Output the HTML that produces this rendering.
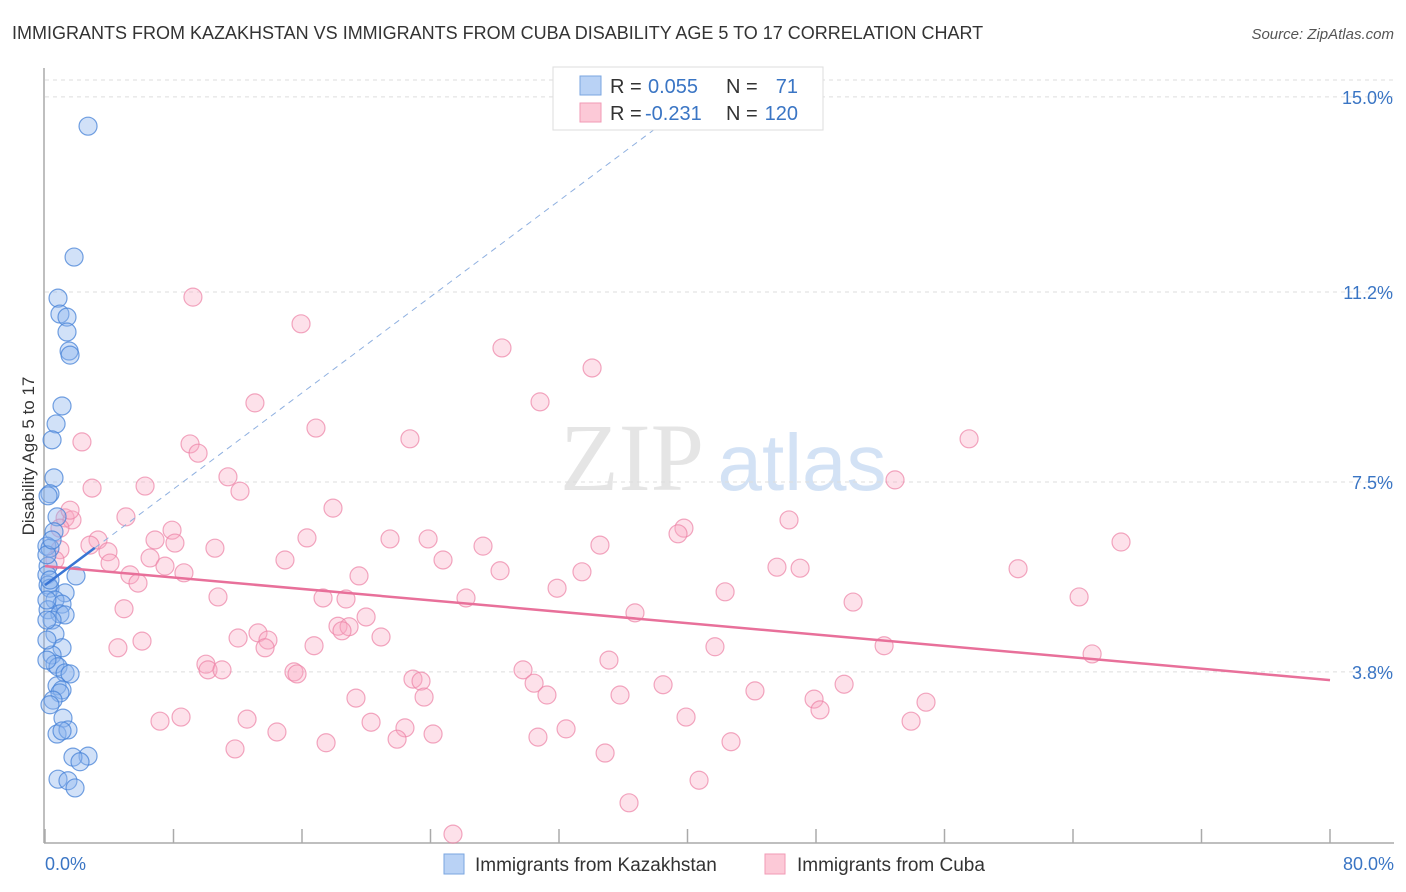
<!DOCTYPE html>
<html><head><meta charset="utf-8"><style>
body{margin:0;background:#fff;font-family:"Liberation Sans",sans-serif;}
svg{display:block}
</style></head><body>
<svg id="chart" width="1406" height="892" xmlns="http://www.w3.org/2000/svg">
<text x="12" y="39" font-size="18" fill="#333">IMMIGRANTS FROM KAZAKHSTAN VS IMMIGRANTS FROM CUBA DISABILITY AGE 5 TO 17 CORRELATION CHART</text>
<text x="1394" y="39" font-size="15" fill="#555" text-anchor="end" font-style="italic">Source: ZipAtlas.com</text>
<g opacity="0.5">
<text x="632" y="490" font-size="96" fill="#ccc" text-anchor="middle" font-family="Liberation Serif,serif">ZIP</text>
<text x="802" y="490" font-size="80" fill="#a9c6ec" text-anchor="middle">atlas</text>
</g>
<g id="grid"></g>
<g id="axes"></g>
<g id="pts"></g>
<g id="lines"></g>
<text transform="translate(34,456) rotate(-90)" font-size="17" fill="#333" text-anchor="middle">Disability Age 5 to 17</text>
<text x="45" y="870" font-size="18" fill="#3a75c4">0.0%</text>
<text x="1394" y="870" font-size="18" fill="#3a75c4" text-anchor="end">80.0%</text>
<g>
<rect x="553" y="67" width="270" height="63" fill="#fff" stroke="#ddd"/>
<rect x="580" y="76" width="21" height="19" fill="#b9d2f5" stroke="#7aa6e0"/>
<rect x="580" y="103" width="21" height="19" fill="#fcc9d7" stroke="#f29ab5"/>
<text x="610" y="93" font-size="20" fill="#333">R = </text><text x="648" y="93" font-size="20" fill="#3a75c4">0.055</text>
<text x="726" y="93" font-size="20" fill="#333">N = </text><text x="798" y="93" font-size="20" fill="#3a75c4" text-anchor="end">71</text>
<text x="610" y="120" font-size="20" fill="#333">R = </text><text x="645" y="120" font-size="20" fill="#3a75c4">-0.231</text>
<text x="726" y="120" font-size="20" fill="#333">N = </text><text x="798" y="120" font-size="20" fill="#3a75c4" text-anchor="end">120</text>
</g>
<g>
<rect x="444" y="854" width="20" height="20" fill="#b9d2f5" stroke="#7aa6e0"/>
<text x="475" y="871" font-size="19" fill="#333">Immigrants from Kazakhstan</text>
<rect x="765" y="854" width="20" height="20" fill="#fcc9d7" stroke="#f29ab5"/>
<text x="797" y="871" font-size="19" fill="#333">Immigrants from Cuba</text>
</g>
</svg>
<script>
const yTicks=[15.0,11.2,7.5,3.8];
const yTickLabels=["15.0%","11.2%","7.5%","3.8%"];
const xTicks=[0,8,16,24,32,40,48,56,64,72,80];
const blueX=[2.68,1.81,0.81,0.93,1.37,1.37,1.50,1.56,1.06,0.69,0.44,0.56,0.31,0.19,0.75,0.56,0.12,0.31,0.19,1.93,0.12,0.19,0.31,1.25,0.62,1.06,0.19,0.93,1.25,0.44,0.62,1.06,0.44,0.62,0.81,1.25,1.56,0.75,1.06,0.93,0.50,1.12,0.75,1.43,1.06,2.68,1.74,2.18,0.81,1.43,1.87,0.12,0.12,0.31,0.12,0.44,0.12,0.31,0.12];
const blueY=[14.43,11.88,11.08,10.77,10.71,10.42,10.05,9.97,8.98,8.63,8.32,7.58,7.27,7.23,6.82,6.53,6.25,6.21,5.86,5.67,5.69,5.49,5.43,5.34,5.20,5.12,5.01,4.93,4.91,4.81,4.54,4.27,4.13,3.95,3.90,3.78,3.76,3.53,3.45,3.39,3.25,2.90,2.59,2.67,2.65,2.16,2.14,2.05,1.71,1.68,1.54,4.81,5.20,5.59,6.08,6.37,4.03,3.16,4.42];
const pinkX=[9.21,15.94,28.45,34.06,13.07,30.82,16.87,22.72,2.30,9.03,9.53,57.53,11.39,6.23,2.93,12.14,52.92,17.93,5.04,1.25,1.68,39.78,46.32,39.41,7.91,6.85,8.09,16.31,21.48,23.85,66.99,3.30,3.92,10.58,27.27,34.55,6.54,4.05,14.94,24.78,7.47,8.65,28.33,33.43,45.57,47.01,60.58,5.29,5.79,19.55,31.88,42.34,10.77,17.31,18.74,50.31,64.38,26.21,4.92,36.73,19.99,18.24,18.93,18.49,13.26,12.02,20.92,13.88,16.75,6.04,13.70,4.54,52.24,41.71,65.19,35.11,10.02,10.15,11.02,15.50,15.69,29.76,22.91,23.41,30.45,38.48,49.75,44.20,31.25,35.80,23.60,19.36,47.88,48.25,54.85,8.47,7.16,12.58,20.30,22.41,39.91,53.92,14.44,24.16,21.92,32.44,30.69,17.50,42.71,11.83,34.87,40.72,36.36,25.40,0.93,0.93,1.56,0.62,2.80];
const pinkY=[11.10,10.58,10.11,9.72,9.04,9.06,8.55,8.34,8.28,8.24,8.06,8.34,7.60,7.42,7.38,7.32,7.54,6.99,6.82,6.80,6.76,6.60,6.76,6.49,6.56,6.37,6.31,6.41,6.39,6.39,6.33,6.37,6.14,6.21,6.25,6.27,6.02,5.92,5.98,5.98,5.86,5.73,5.77,5.75,5.84,5.82,5.81,5.69,5.53,5.67,5.43,5.36,5.26,5.24,5.22,5.16,5.26,5.24,5.03,4.95,4.87,4.69,4.68,4.60,4.56,4.46,4.48,4.42,4.31,4.40,4.27,4.27,4.31,4.29,4.15,4.03,3.95,3.84,3.84,3.80,3.76,3.84,3.66,3.62,3.58,3.55,3.56,3.43,3.35,3.35,3.31,3.29,3.27,3.06,3.21,2.92,2.84,2.88,2.82,2.71,2.92,2.84,2.63,2.59,2.49,2.69,2.53,2.42,2.44,2.30,2.22,1.69,1.25,0.64,6.60,6.18,6.95,5.98,6.27];
const pinkTrend=[5.86,3.64];
const blueTrend={b0:5.49,slope:0.234,solidEnd:3.1,dashEnd:38.3};
const NS="http://www.w3.org/2000/svg";
const X=v=>45+v*(1285/80);
const Y=v=>867-v*51.34;
function mk(tag,attrs,parent){const e=document.createElementNS(NS,tag);for(const k in attrs)e.setAttribute(k,attrs[k]);parent.appendChild(e);return e;}
const grid=document.getElementById('grid'),axes=document.getElementById('axes'),pts=document.getElementById('pts'),lines=document.getElementById('lines');
let g=mk('line',{x1:45,x2:1394,y1:80,y2:80,stroke:'#ddd','stroke-dasharray':'4,4'},grid);


yTicks.forEach((t,i)=>{
 const l=mk('line',{x1:45,x2:1394,y1:Y(t),y2:Y(t),stroke:'#ddd','stroke-dasharray':'4,4'},grid);
 
 
 const tx=mk('text',{x:1393,y:Y(t)+7,'font-size':18,fill:'#3a75c4','text-anchor':'end'},grid);
 tx.textContent=yTickLabels[i];
 
 
});
let a=mk('line',{x1:44,x2:44,y1:68,y2:843,stroke:'#aaa','stroke-width':1.5},axes);


a=mk('line',{x1:44,x2:1394,y1:843,y2:843,stroke:'#aaa','stroke-width':1.5},axes);


xTicks.forEach(t=>{
 const l=mk('line',{x1:X(t),x2:X(t),y1:829,y2:843,stroke:'#aaa','stroke-width':1.5},axes);
 
 
});
pinkX.forEach((v,i)=>{
 const c=mk('circle',{cx:X(v),cy:Y(pinkY[i]),r:9,fill:'rgba(248,170,195,0.35)',stroke:'rgba(236,130,165,0.7)','stroke-width':1.2},pts);
 
 
});
blueX.forEach((v,i)=>{
 const c=mk('circle',{cx:X(v),cy:Y(blueY[i]),r:9,fill:'rgba(140,180,238,0.4)',stroke:'rgba(70,130,215,0.75)','stroke-width':1.2},pts);
 
 
});
let t=mk('line',{x1:X(0),y1:Y(pinkTrend[0]),x2:X(80),y2:Y(pinkTrend[1]),stroke:'#e8709a','stroke-width':2.5},lines);


const by=x=>blueTrend.b0+blueTrend.slope*x;
t=mk('line',{x1:X(blueTrend.solidEnd),y1:Y(by(blueTrend.solidEnd)),x2:X(blueTrend.dashEnd),y2:Y(by(blueTrend.dashEnd)),stroke:'#8fb0e0','stroke-width':1,'stroke-dasharray':'6,5'},lines);


t=mk('line',{x1:X(0),y1:Y(by(0)),x2:X(blueTrend.solidEnd),y2:Y(by(blueTrend.solidEnd)),stroke:'#3a75d4','stroke-width':2.5},lines);


</script>
</body></html>
